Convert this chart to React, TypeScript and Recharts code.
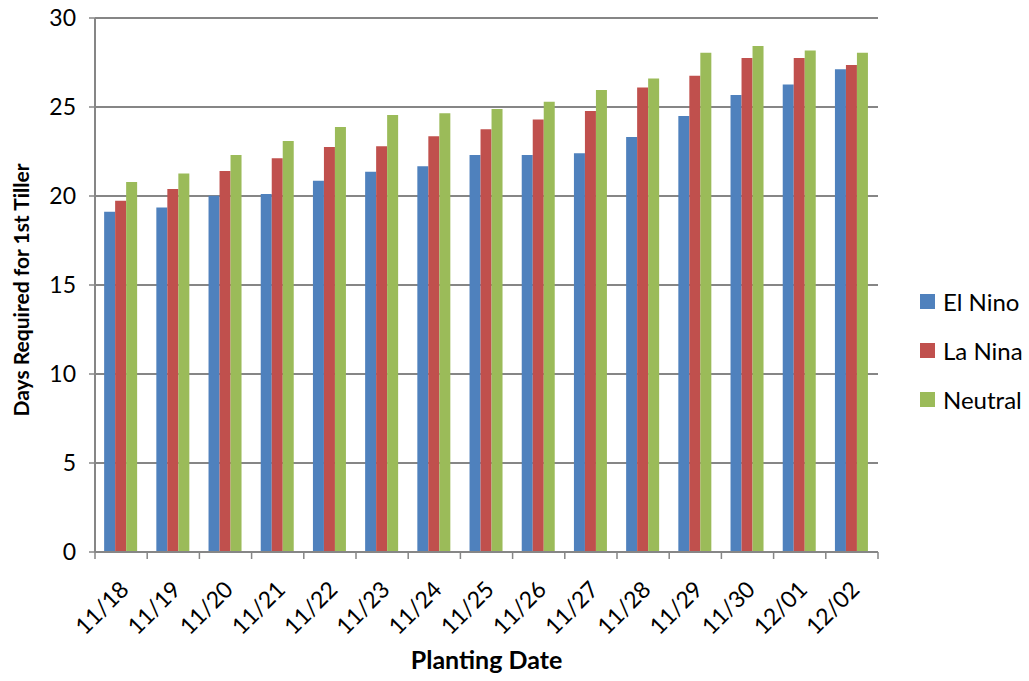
import { Bar, BarChart, CartesianGrid, Legend, XAxis, YAxis } from 'recharts'

const dates = ['11/18', '11/19', '11/20', '11/21', '11/22', '11/23', '11/24', '11/25', '11/26', '11/27', '11/28', '11/29', '11/30', '12/01', '12/02']
const elNino = [19.12, 19.36, 20.02, 20.11, 20.86, 21.36, 21.67, 22.3, 22.3, 22.4, 23.31, 24.5, 25.67, 26.27, 27.12]
const laNina = [19.74, 20.39, 21.4, 22.12, 22.75, 22.79, 23.35, 23.75, 24.3, 24.78, 26.09, 26.76, 27.75, 27.75, 27.36]
const neutral = [20.79, 21.27, 22.3, 23.09, 23.88, 24.55, 24.65, 24.89, 25.3, 25.95, 26.6, 28.05, 28.43, 28.18, 28.05]
const yTicks = [0, 5, 10, 15, 20, 25, 30]

const series = [
  { key: 'elNino', name: 'El Nino', color: '#4F81BD' },
  { key: 'laNina', name: 'La Nina', color: '#C0504D' },
  { key: 'neutral', name: 'Neutral', color: '#9BBB59' },
]

const data = dates.map((d, i) => ({ date: d, elNino: elNino[i], laNina: laNina[i], neutral: neutral[i] }))

const W = 1029
const H = 681
const margin = { top: 18, right: 21, left: 0, bottom: 0 }
const yAxisW = 95
const xAxisH = 129
const legendW = 130
const plotW = W - margin.left - margin.right - yAxisW - legendW
const plotH = H - margin.top - margin.bottom - xAxisH
const band = plotW / dates.length
const font = 'Lato, "Noto Sans", sans-serif'
const gray = '#868686'

function XTick(props: any) {
  const { x, y, payload, index } = props
  const half = band / 2
  return (
    <g>
      <line x1={x - half} x2={x - half} y1={y} y2={y + 7} stroke={gray} strokeWidth={1.5} />
      {index === dates.length - 1 && (
        <line x1={x + half} x2={x + half} y1={y} y2={y + 7} stroke={gray} strokeWidth={1.5} />
      )}
      <text
        transform={`translate(${x + 9},${y + 39}) rotate(-45)`}
        textAnchor="end"
        fontSize={23}
        fontFamily={font}
        fill="#000"
      >
        {payload.value}
      </text>
    </g>
  )
}

function LegendBox() {
  return (
    <div style={{ paddingLeft: 42, paddingTop: 20, fontFamily: font, fontSize: 24, color: '#000', whiteSpace: 'nowrap' }}>
      {series.map((s) => (
        <div key={s.key} style={{ display: 'flex', alignItems: 'center', height: 49 }}>
          <span style={{ width: 15, height: 15, background: s.color, marginRight: 8, display: 'inline-block', flex: 'none' }} />
          <span>{s.name}</span>
        </div>
      ))}
    </div>
  )
}

export default function App() {
  return (
    <div style={{ position: 'absolute', left: 0, top: 0, width: W, height: H, background: '#fff' }}>
      <BarChart width={W} height={H} data={data} margin={margin} barCategoryGap="17.5%" barGap={0}>
        <CartesianGrid vertical={false} stroke={gray} strokeWidth={2} />
        <XAxis
          dataKey="date"
          interval={0}
          height={xAxisH}
          tickSize={0}
          tickMargin={0}
          axisLine={{ stroke: gray, strokeWidth: 2 }}
          tick={<XTick />}
          label={() => (
            <text
              x={margin.left + yAxisW + plotW / 2}
              y={663}
              textAnchor="middle"
              dominantBaseline="middle"
              fontSize={25}
              fontWeight="bold"
              fontFamily={font}
              fill="#000"
            >
              Planting Date
            </text>
          )}
        />
        <YAxis
          width={yAxisW}
          domain={[0, 30]}
          ticks={yTicks}
          interval={0}
          tickSize={6}
          tickMargin={13}
          axisLine={{ stroke: gray, strokeWidth: 2 }}
          tickLine={{ stroke: gray, strokeWidth: 1.5 }}
          tick={{ fontSize: 23, fontFamily: font, fill: '#000' }}
          label={() => {
            const cx = 24
            const cy = margin.top + plotH / 2 + 5
            return (
              <text
                x={cx}
                y={cy}
                transform={`rotate(-90, ${cx}, ${cy})`}
                textAnchor="middle"
                dominantBaseline="middle"
                fontSize={21}
                fontWeight="bold"
                fontFamily={font}
                fill="#000"
              >
                Days Required for 1st Tiller
              </text>
            )
          }}
        />
        <Legend layout="vertical" align="right" verticalAlign="middle" width={legendW} content={<LegendBox />} />
        {series.map((s) => (
          <Bar key={s.key} dataKey={s.key} name={s.name} fill={s.color} isAnimationActive={false} />
        ))}
      </BarChart>
    </div>
  )
}
